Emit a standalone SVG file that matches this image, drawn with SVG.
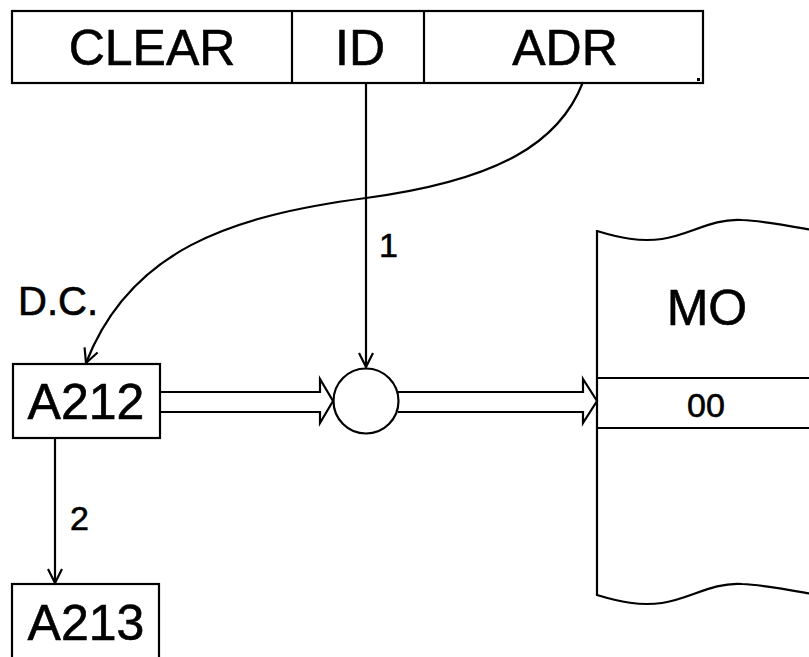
<svg xmlns="http://www.w3.org/2000/svg" width="809" height="657" viewBox="0 0 809 657">
<style>
.s{fill:none;stroke:#000;stroke-width:2.2}
.b{fill:#fff;stroke:#000;stroke-width:2.2}
text{font-family:"Liberation Sans",Arial,sans-serif;fill:#000;stroke:#000;stroke-width:0.6}
.big{font-size:50px;text-anchor:middle}
.sm{font-size:34px}
</style>
<defs>
<marker id="ah" markerUnits="userSpaceOnUse" markerWidth="20" markerHeight="20" viewBox="-16 -10 18 20" refX="0" refY="0" orient="auto">
<path d="M-14,-7 L0,0 L-14,7" fill="none" stroke="#000" stroke-width="2.2"/>
</marker>
</defs>
<rect x="0" y="0" width="809" height="657" fill="#fff"/>
<g id="instruction">
<rect class="b" x="12" y="11" width="691" height="72"/>
<line class="s" x1="292" y1="11" x2="292" y2="83"/>
<line class="s" x1="424" y1="11" x2="424" y2="83"/>
<text class="big" x="152" y="65">CLEAR</text>
<text class="big" x="360" y="65">ID</text>
<text class="big" x="565" y="65">ADR</text>
<rect x="697" y="78" width="3" height="3" fill="#000"/>
</g>
<g id="A212">
<rect class="b" x="13" y="364" width="147" height="74"/>
<text class="big" x="86" y="419">A212</text>
</g>
<g id="A213">
<rect class="b" x="12" y="584" width="147" height="80"/>
<text class="big" x="86" y="640">A213</text>
</g>
<g id="gate">
<circle class="b" cx="366" cy="401" r="32.5"/>
</g>
<g id="MO">
<path class="s" d="M597,231 C620,238 640,242 662,239 C690,235 712,218 742,220 C765,221 790,226 812,230"/>
<path class="s" d="M597,595 C620,602 640,606 662,603 C690,599 712,582 742,584 C765,585 790,590 812,594"/>
<line class="s" x1="597" y1="230" x2="597" y2="596"/>
<line class="s" x1="597" y1="378" x2="809" y2="378"/>
<line class="s" x1="597" y1="428" x2="809" y2="428"/>
<text class="big" x="707" y="325">MO</text>
<text class="sm" x="706" y="417" text-anchor="middle">00</text>
</g>
<g id="connectors">
<path class="s" d="M583,82 C560,142 500,180 366,198 C230,216 130,250 86,363" marker-end="url(#ah)"/>
<line class="s" x1="366" y1="83" x2="366" y2="367" marker-end="url(#ah)"/>
<line class="s" x1="55" y1="438" x2="55" y2="583" marker-end="url(#ah)"/>
<path class="s" d="M160,392 H320 V379 L333,401 L320,423 V412 H160"/>
<path class="s" d="M398,392 H583 V379 L597,401 L583,423 V412 H398"/>
<text x="18" y="315" font-size="40">D.C.</text>
<text class="sm" x="379" y="257">1</text>
<text class="sm" x="70" y="530">2</text>
</g>
</svg>
